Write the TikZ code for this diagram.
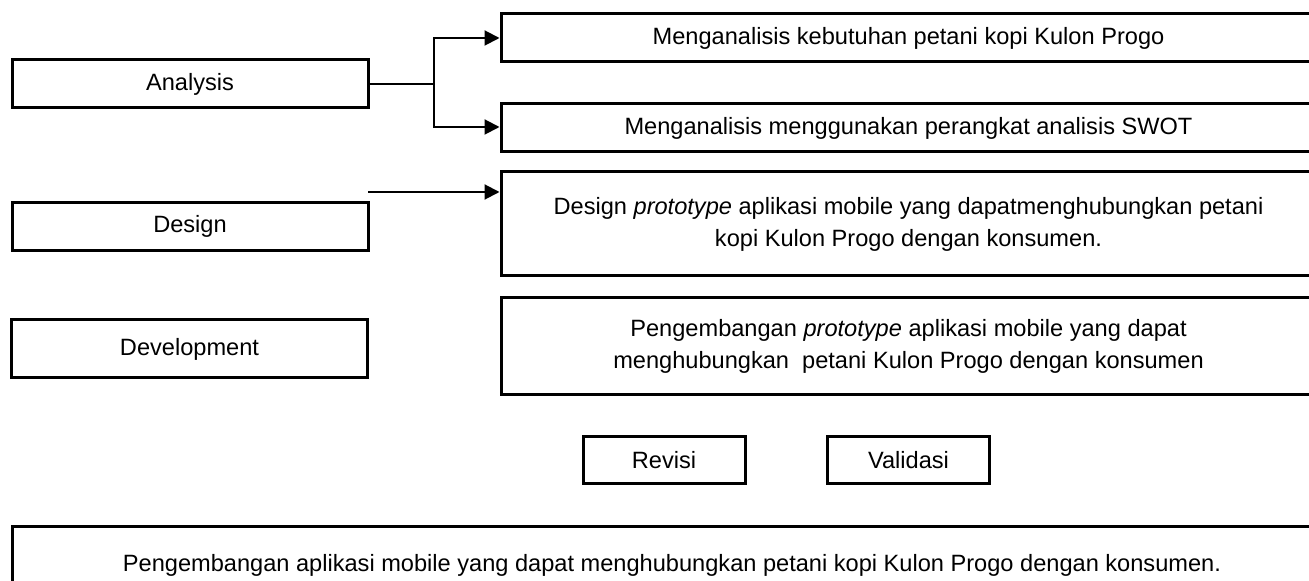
\documentclass[tikz,border=0pt]{standalone}
\usepackage{fontspec}
\setmainfont{Liberation Sans}
\usetikzlibrary{positioning, arrows.meta}

\begin{document}
\begin{tikzpicture}[x=0.5pt, y=-0.5pt, >={Triangle[length=7.5pt,width=7.5pt]},
  box/.style={draw, line width=1.5pt, inner sep=0pt, align=center,
    font=\fontsize{11.8}{16}\selectfont},
  stage/.style={box, minimum width=178pt, minimum height=24pt},
  task/.style={box, minimum width=407.5pt},
  small/.style={box, minimum width=81pt, minimum height=23.5pt},
  link/.style={->, line width=1pt}]
  \useasboundingbox (0,0) rectangle (1309,581);
  \clip (0,0) rectangle (1309,581);
  % stages
  \node[stage] (ana) at (190,84) {Analysis};
  \node[stage] (des) at (190,226.5) {Design};
  \node[stage, minimum height=29pt] (dev) at (189.5,349) {Development};
  % tasks
  \node[task, minimum height=24pt] (an1) at (908.5,38) {Menganalisis kebutuhan petani kopi Kulon Progo};
  \node[task, minimum height=24pt] (an2) at (908.5,128) {Menganalisis menggunakan perangkat analisis SWOT};
  \node[task, minimum height=52pt] (ds) at (908.5,224)
    {Design \textit{prototype} aplikasi mobile yang dapatmenghubungkan petani\\kopi Kulon Progo dengan konsumen.};
  \node[task, minimum height=48.5pt] (dv) at (908.5,346.5)
    {Pengembangan \textit{prototype} aplikasi mobile yang dapat\\menghubungkan\ \ petani Kulon Progo dengan konsumen};
  \node[small] (rev) at (664,460.5) {Revisi};
  \node[small] (val) at (908.5,460.5) {Validasi};
  \node[box, minimum width=660pt, minimum height=39pt] (fin) at (672,565)
    {Pengembangan aplikasi mobile yang dapat menghubungkan petani kopi Kulon Progo dengan konsumen.};
  % connectors
  \draw[line width=1pt] (ana.east) -- ++(64,0) coordinate (split);
  \draw[link] (split) |- (an1.west);
  \draw[link] (split) |- (an2.west |- 0,127);
  \coordinate (dsrc) at (368,192);
  \draw[link] (dsrc) -- (dsrc -| ds.west);
\end{tikzpicture}
\end{document}
